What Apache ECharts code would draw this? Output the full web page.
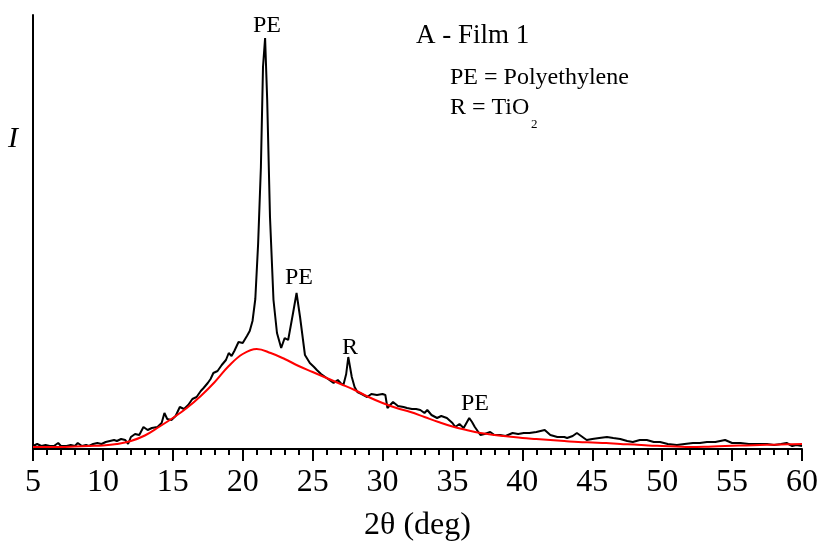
<!DOCTYPE html>
<html>
<head>
<meta charset="utf-8">
<script src="https://cdn.jsdelivr.net/npm/echarts@6/dist/echarts.min.js"></script>
<style>
  html, body { margin: 0; padding: 0; background: #fff; }
  #main { width: 823px; height: 547px; }
</style>
</head>
<body>
<div id="main"></div>
<script>
// measured pattern: 2theta (deg) vs intensity (arbitrary units)
var scanX = [5.0, 5.3, 5.6, 5.9, 6.2, 6.5, 6.8, 7.0, 7.4, 7.7, 8.0, 8.2, 8.5, 8.8, 9.0, 9.3, 9.6, 9.9,
  10.2, 10.5, 10.8, 11.0, 11.3, 11.6, 11.8, 12.0, 12.3, 12.6, 12.9, 13.2, 13.5, 13.9, 14.2, 14.4, 14.6, 14.9,
  15.2, 15.5, 15.8, 16.1, 16.4, 16.7, 17.0, 17.2, 17.5, 17.7, 17.9, 18.2, 18.5, 18.8, 19.0, 19.2, 19.4, 19.7,
  20.0, 20.3, 20.5, 20.7, 20.9, 21.1, 21.3, 21.45, 21.6, 21.75, 21.95, 22.2, 22.45, 22.75, 23.0, 23.25,
  23.6, 23.85, 24.1, 24.45, 24.8, 25.1, 25.3, 25.6, 26.0, 26.3, 26.5, 26.8, 27.0, 27.2, 27.4, 27.55, 27.7,
  27.8, 28.0, 28.2, 28.5, 28.9, 29.2, 29.6, 30.0, 30.2, 30.35, 30.75, 31.1, 31.5, 31.75, 32.1, 32.4, 32.7,
  33.0, 33.2, 33.5, 33.9, 34.2, 34.6, 35.0, 35.2, 35.5, 35.8, 36.0, 36.2, 36.4, 36.6, 37.0, 37.3, 37.7,
  38.0, 38.4, 38.8, 39.3, 39.7, 40.1, 40.5, 41.0, 41.6, 42.0, 42.5, 43.0, 43.2, 43.6, 43.9, 44.3, 44.6,
  45.0, 45.5, 46.05, 46.5, 47.0, 47.5, 47.9, 48.4, 48.9, 49.4, 49.85, 50.4, 51.05, 51.6, 52.2, 52.7, 53.2,
  53.8, 54.5, 55.0, 55.6, 56.2, 57.0, 57.5, 58.0, 58.5, 58.9, 59.3, 59.6, 60.0];
var scanY = [3, 5, 3, 4, 3, 3, 6, 3, 3, 4, 3, 6, 3, 4, 3, 5, 6, 5,
  7, 8, 9, 8, 10, 9, 5, 12, 15, 14, 22, 19, 21, 22, 26, 36, 30, 29,
  33, 42, 40, 44, 50, 52, 58, 61, 66, 70, 76, 78, 84, 89, 96, 93, 98, 107,
  106, 113, 118, 128, 150, 205, 282, 382, 411, 349, 232, 149, 116, 101, 111, 109,
  136, 156, 132, 94, 86, 82, 79, 75, 71, 68, 66, 69, 66, 64, 75, 92, 80,
  72, 62, 57, 55, 52, 55, 54, 55, 54, 41, 47, 43, 42, 41, 40, 40, 39,
  36, 39, 34, 31, 33, 31, 26, 22, 25, 21, 26, 31, 27, 22, 14, 15, 17,
  14, 14, 13, 16, 15, 16, 16, 17, 19, 14, 12, 12, 11, 13, 16, 12, 9,
  10, 11, 12, 11, 10, 8, 7, 9, 9, 7, 7, 5, 4, 5, 6, 6, 7,
  7, 9, 6, 6, 5, 5, 5, 4, 5, 6, 3, 4, 3];

// amorphous background fit
var fitX = [5, 6, 7, 8, 9, 10, 11, 12, 13, 14, 15, 16, 17, 18, 19, 20, 21, 22, 23, 24, 25, 26, 27, 28,
  29, 30, 31, 32, 33, 34, 35, 36, 37, 38, 39, 40, 41, 42, 43, 44, 45, 46, 47, 48, 49, 50, 51, 52, 53,
  54, 55, 56, 57, 58, 59, 60];
var fitY = [2, 2, 2, 2.5, 3, 3.5, 5, 8, 13.5, 22, 31, 41, 53, 67, 83, 95, 100, 96, 90, 83, 77, 71, 65, 59,
  52, 46, 41, 37, 32, 27, 22.5, 19, 16, 14, 12.5, 11, 10, 9, 8, 7, 6.5, 6, 5, 4.5, 3.5, 3, 2.5, 2, 2.2,
  2.7, 3.2, 3.6, 4, 4.3, 4.7, 5];

var xTicks = [5, 10, 15, 20, 25, 30, 35, 40, 45, 50, 55, 60];

function pairs(xs, ys) {
  var out = [];
  for (var i = 0; i < xs.length; i++) {
    out.push([xs[i], ys[i]]);
  }
  return out;
}

var serif = 'Liberation Serif';
var chart = echarts.init(document.getElementById('main'));

var option = {
  backgroundColor: '#fff',
  animation: false,
  grid: { left: 33, right: 21, top: 15, bottom: 98 },
  xAxis: {
    type: 'value',
    min: xTicks[0],
    max: xTicks[xTicks.length - 1],
    interval: 5,
    name: '2θ (deg)',
    nameLocation: 'middle',
    nameGap: 61,
    nameTextStyle: { fontFamily: serif, fontSize: 32, color: '#000' },
    axisLine: { show: true, onZero: false, lineStyle: { color: '#000', width: 2 } },
    axisTick: { show: true, inside: false, length: 12, lineStyle: { color: '#000', width: 2 } },
    minorTick: { show: true, splitNumber: 5, length: 6, lineStyle: { color: '#000', width: 2 } },
    axisLabel: { margin: 18, fontFamily: serif, fontSize: 32, color: '#000' },
    splitLine: { show: false }
  },
  yAxis: {
    type: 'value',
    min: 0,
    max: 434,
    axisLine: { show: true, onZero: false, lineStyle: { color: '#000', width: 2 } },
    axisTick: { show: false },
    axisLabel: { show: false },
    splitLine: { show: false }
  },
  graphic: [
    { type: 'text', left: 8, top: 124, style: { text: 'I', fontFamily: serif, fontStyle: 'italic', fontSize: 30, fill: '#000' } },
    { type: 'text', left: 253, top: 14, style: { text: 'PE', fontFamily: serif, fontSize: 24, fill: '#000' } },
    { type: 'text', left: 285, top: 266, style: { text: 'PE', fontFamily: serif, fontSize: 24, fill: '#000' } },
    { type: 'text', left: 342, top: 336, style: { text: 'R', fontFamily: serif, fontSize: 24, fill: '#000' } },
    { type: 'text', left: 461, top: 392, style: { text: 'PE', fontFamily: serif, fontSize: 24, fill: '#000' } },
    { type: 'text', left: 416, top: 22, style: { text: 'A - Film 1', fontFamily: serif, fontSize: 27, fill: '#000' } },
    { type: 'text', left: 450, top: 66, style: { text: 'PE = Polyethylene', fontFamily: serif, fontSize: 24, fill: '#000' } },
    { type: 'text', left: 450, top: 96, style: { text: 'R = TiO', fontFamily: serif, fontSize: 24, fill: '#000' } },
    { type: 'text', left: 531, top: 118, style: { text: '2', fontFamily: serif, fontSize: 13, fill: '#000' } }
  ],
  series: [
    {
      type: 'line',
      data: pairs(scanX, scanY),
      showSymbol: false,
      lineStyle: { color: '#000', width: 2 },
      z: 2
    },
    {
      type: 'line',
      data: pairs(fitX, fitY),
      smooth: 0.4,
      showSymbol: false,
      lineStyle: { color: '#ff0000', width: 2 },
      z: 3
    }
  ]
};

chart.setOption(option);
</script>
</body>
</html>
